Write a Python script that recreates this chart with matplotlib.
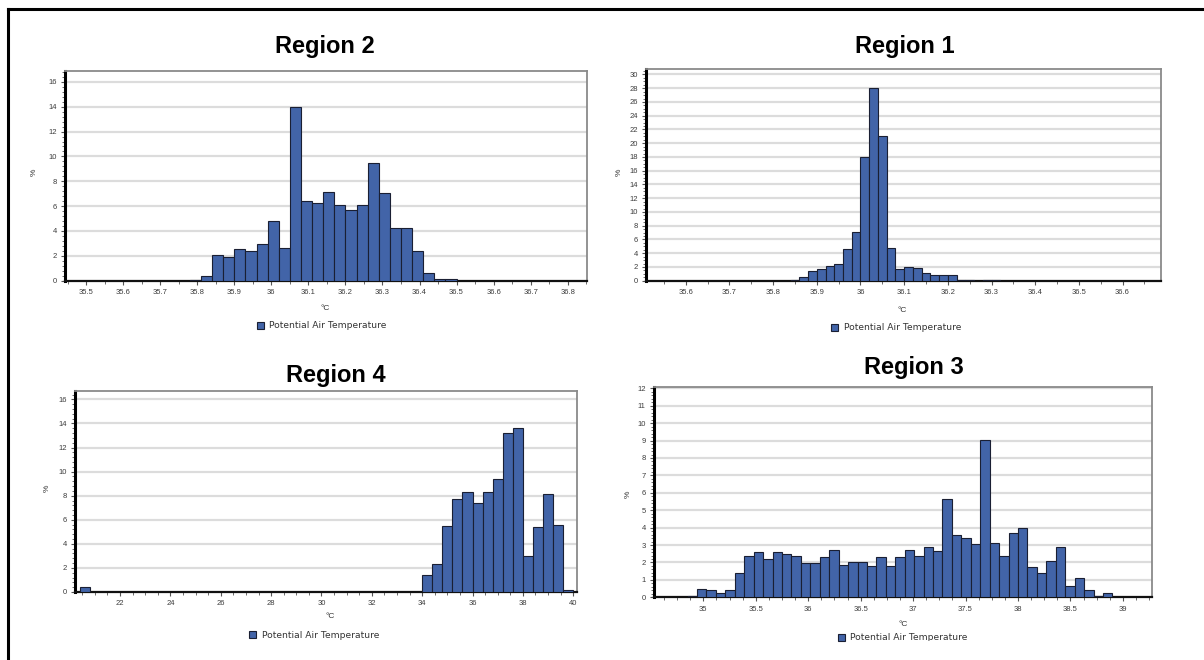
import numpy as np
import matplotlib
matplotlib.use("Agg")
import matplotlib.pyplot as plt
from matplotlib.patches import Patch
from matplotlib.lines import Line2D
from matplotlib.ticker import MultipleLocator, FormatStrFormatter
from matplotlib.transforms import Bbox, TransformedBbox

plt.rcParams['font.family'] = ['Liberation Sans', 'DejaVu Sans']

## histogram data (% of cells per bin), bins given by first edge + width
r2_start, r2_width = 35.78, 0.03
r2_vals = [0.05, 0.4, 2.05, 1.93, 2.55, 2.4, 2.95, 4.78, 2.62, 14.0, 6.4, 6.28, 7.12,
           6.09, 5.65, 6.09, 9.5, 7.02, 4.25, 4.25, 2.42, 0.62, 0.16, 0.16]

r1_start, r1_width = 35.84, 0.02
r1_vals = [0.1, 0.5, 1.4, 1.65, 2.2, 2.5, 4.6, 7.1, 18.0, 28.0, 21.0, 4.8, 1.75,
           2.0, 1.8, 1.1, 0.9, 0.9, 0.9, 0.12, 0.08, 0.0, 0.12, 0.12]

r4_width = 0.4
r4_low_start = 20.4
r4_low_vals = [0.45]
r4_start = 34.0
r4_vals = [1.4, 2.3, 5.5, 7.7, 8.3, 7.4, 8.3, 9.35, 13.2, 13.65, 3.0, 5.4, 8.15, 5.55, 0.2]

r3_start, r3_width = 34.85, 0.09
r3_vals = [0.1, 0.5, 0.42, 0.22, 0.43, 1.4, 2.35, 2.6, 2.2, 2.6, 2.5, 2.35, 1.97, 1.95,
           2.3, 2.7, 1.88, 2.0, 2.0, 1.8, 2.3, 1.8, 2.3, 2.7, 2.4, 2.9, 2.65, 5.65,
           3.6, 3.42, 3.08, 9.05, 3.12, 2.4, 3.72, 4.0, 1.72, 1.4, 2.08, 2.9, 0.64,
           1.08, 0.42, 0.1, 0.23]

series_name = 'Potential Air Temperature'
BAR = '#4264a8'
EDGE = '#1a1f33'
W, H = 1204, 660

fig = plt.figure(figsize=(W / 100, H / 100), dpi=100)

def px_axes(left, top, right, bottom):
    return fig.add_axes([left / W, 1 - bottom / H, (right - left) / W, (bottom - top) / H])

def style(ax, xlim, ylim, xmaj, xmin, ymaj, ymin):
    ax.set_xlim(*xlim)
    ax.set_ylim(*ylim)
    ax.xaxis.set_major_locator(MultipleLocator(xmaj))
    ax.xaxis.set_minor_locator(MultipleLocator(xmin))
    ax.yaxis.set_major_locator(MultipleLocator(ymaj))
    ax.yaxis.set_minor_locator(MultipleLocator(ymin))
    ax.xaxis.set_major_formatter(FormatStrFormatter('%g'))
    ax.yaxis.set_major_formatter(FormatStrFormatter('%g'))
    ax.tick_params(which='major', direction='out', length=3, width=0.8,
                   colors='#555555', labelsize=5.5, labelcolor='#3c3c3c', pad=3)
    ax.tick_params(which='minor', direction='out', length=2, width=0.6, colors='#555555')
    ax.grid(axis='y', which='major', color='#dcdcdc', lw=1.6, zorder=0)
    ax.set_axisbelow(True)
    ax.spines['left'].set_linewidth(2.2)
    ax.spines['left'].set_color('black')
    ax.spines['bottom'].set_linewidth(1.6)
    ax.spines['bottom'].set_color('#111111')
    for s in ('top', 'right'):
        ax.spines[s].set_linewidth(1.3)
        ax.spines[s].set_color('#8a8a8a')

def bars(ax, start, width, vals):
    x = start + width * np.arange(len(vals))
    ax.bar(x, vals, width=width, align='edge', color=BAR, edgecolor=EDGE, lw=0.8, zorder=3)

def legend(ax, cx, cy, clip_y=None):
    h = Patch(facecolor=BAR, edgecolor=EDGE, lw=0.8)
    leg = ax.legend([h], [series_name], loc='center', bbox_to_anchor=(cx / W, 1 - cy / H),
                    bbox_transform=fig.transFigure, frameon=False,
                    prop={'family': 'DejaVu Sans', 'size': 6.6},
                    handlelength=0.75, handleheight=0.75, handletextpad=0.6,
                    borderpad=0, borderaxespad=0)
    for t in leg.get_texts():
        t.set_color('#333333')
        if clip_y is not None:
            t.set_clip_box(TransformedBbox(Bbox.from_extents(0, 1 - clip_y / H, 1, 1),
                                           fig.transFigure))
            t.set_clip_on(True)

def labels(title, tx, ty, ylx, yly, xlx, xly):
    fig.text(tx / W, 1 - ty / H, title, ha='center', va='baseline',
             fontsize=17, fontweight='bold', color='black')
    fig.text(ylx / W, 1 - yly / H, '%', rotation=90, ha='center', va='center',
             fontsize=6, color='#333333')
    fig.text(xlx / W, 1 - xly / H, '°C', ha='center', va='center',
             fontsize=6, color='#333333')

# Region 2
ax2 = px_axes(65, 70.7, 587, 280.7)
bars(ax2, r2_start, r2_width, r2_vals)
style(ax2, (35.443, 36.852), (0, 16.9), 0.1, 0.05, 2, 0.4)
legend(ax2, 322, 326)
labels('Region 2', 325, 53, 34, 172, 325, 308)

# Region 1
ax1 = px_axes(646, 69, 1161, 280.7)
bars(ax1, r1_start, r1_width, r1_vals)
style(ax1, (35.509, 36.688), (0, 30.8), 0.1, 0.05, 2, 0.5)
legend(ax1, 896, 328)
labels('Region 1', 905, 53, 619, 172, 902, 310)

# Region 4
ax4 = px_axes(75, 391, 577, 592)
bars(ax4, r4_low_start, r4_width, r4_low_vals)
bars(ax4, r4_start, r4_width, r4_vals)
style(ax4, (20.21, 40.15), (0, 16.7), 2, 0.5, 2, 0.4)
legend(ax4, 314, 635)
labels('Region 4', 336, 382, 47, 488, 330, 617)

# Region 3
ax3 = px_axes(654, 387.3, 1152.3, 597.3)
bars(ax3, r3_start, r3_width, r3_vals)
style(ax3, (34.53, 39.28), (0, 12.06), 0.5, 0.125, 1, 0.2)
legend(ax3, 903, 638, clip_y=641)
labels('Region 3', 914, 374, 628, 494, 903, 624)

# outer frame (left and top edges)
fig.add_artist(Line2D([8 / W, 8 / W], [0, 1 - 9 / H], color='black', lw=2.2))
fig.add_artist(Line2D([8 / W, 1], [1 - 9 / H, 1 - 9 / H], color='black', lw=2.2))

fig.savefig('out.png', dpi=100, facecolor='white')
